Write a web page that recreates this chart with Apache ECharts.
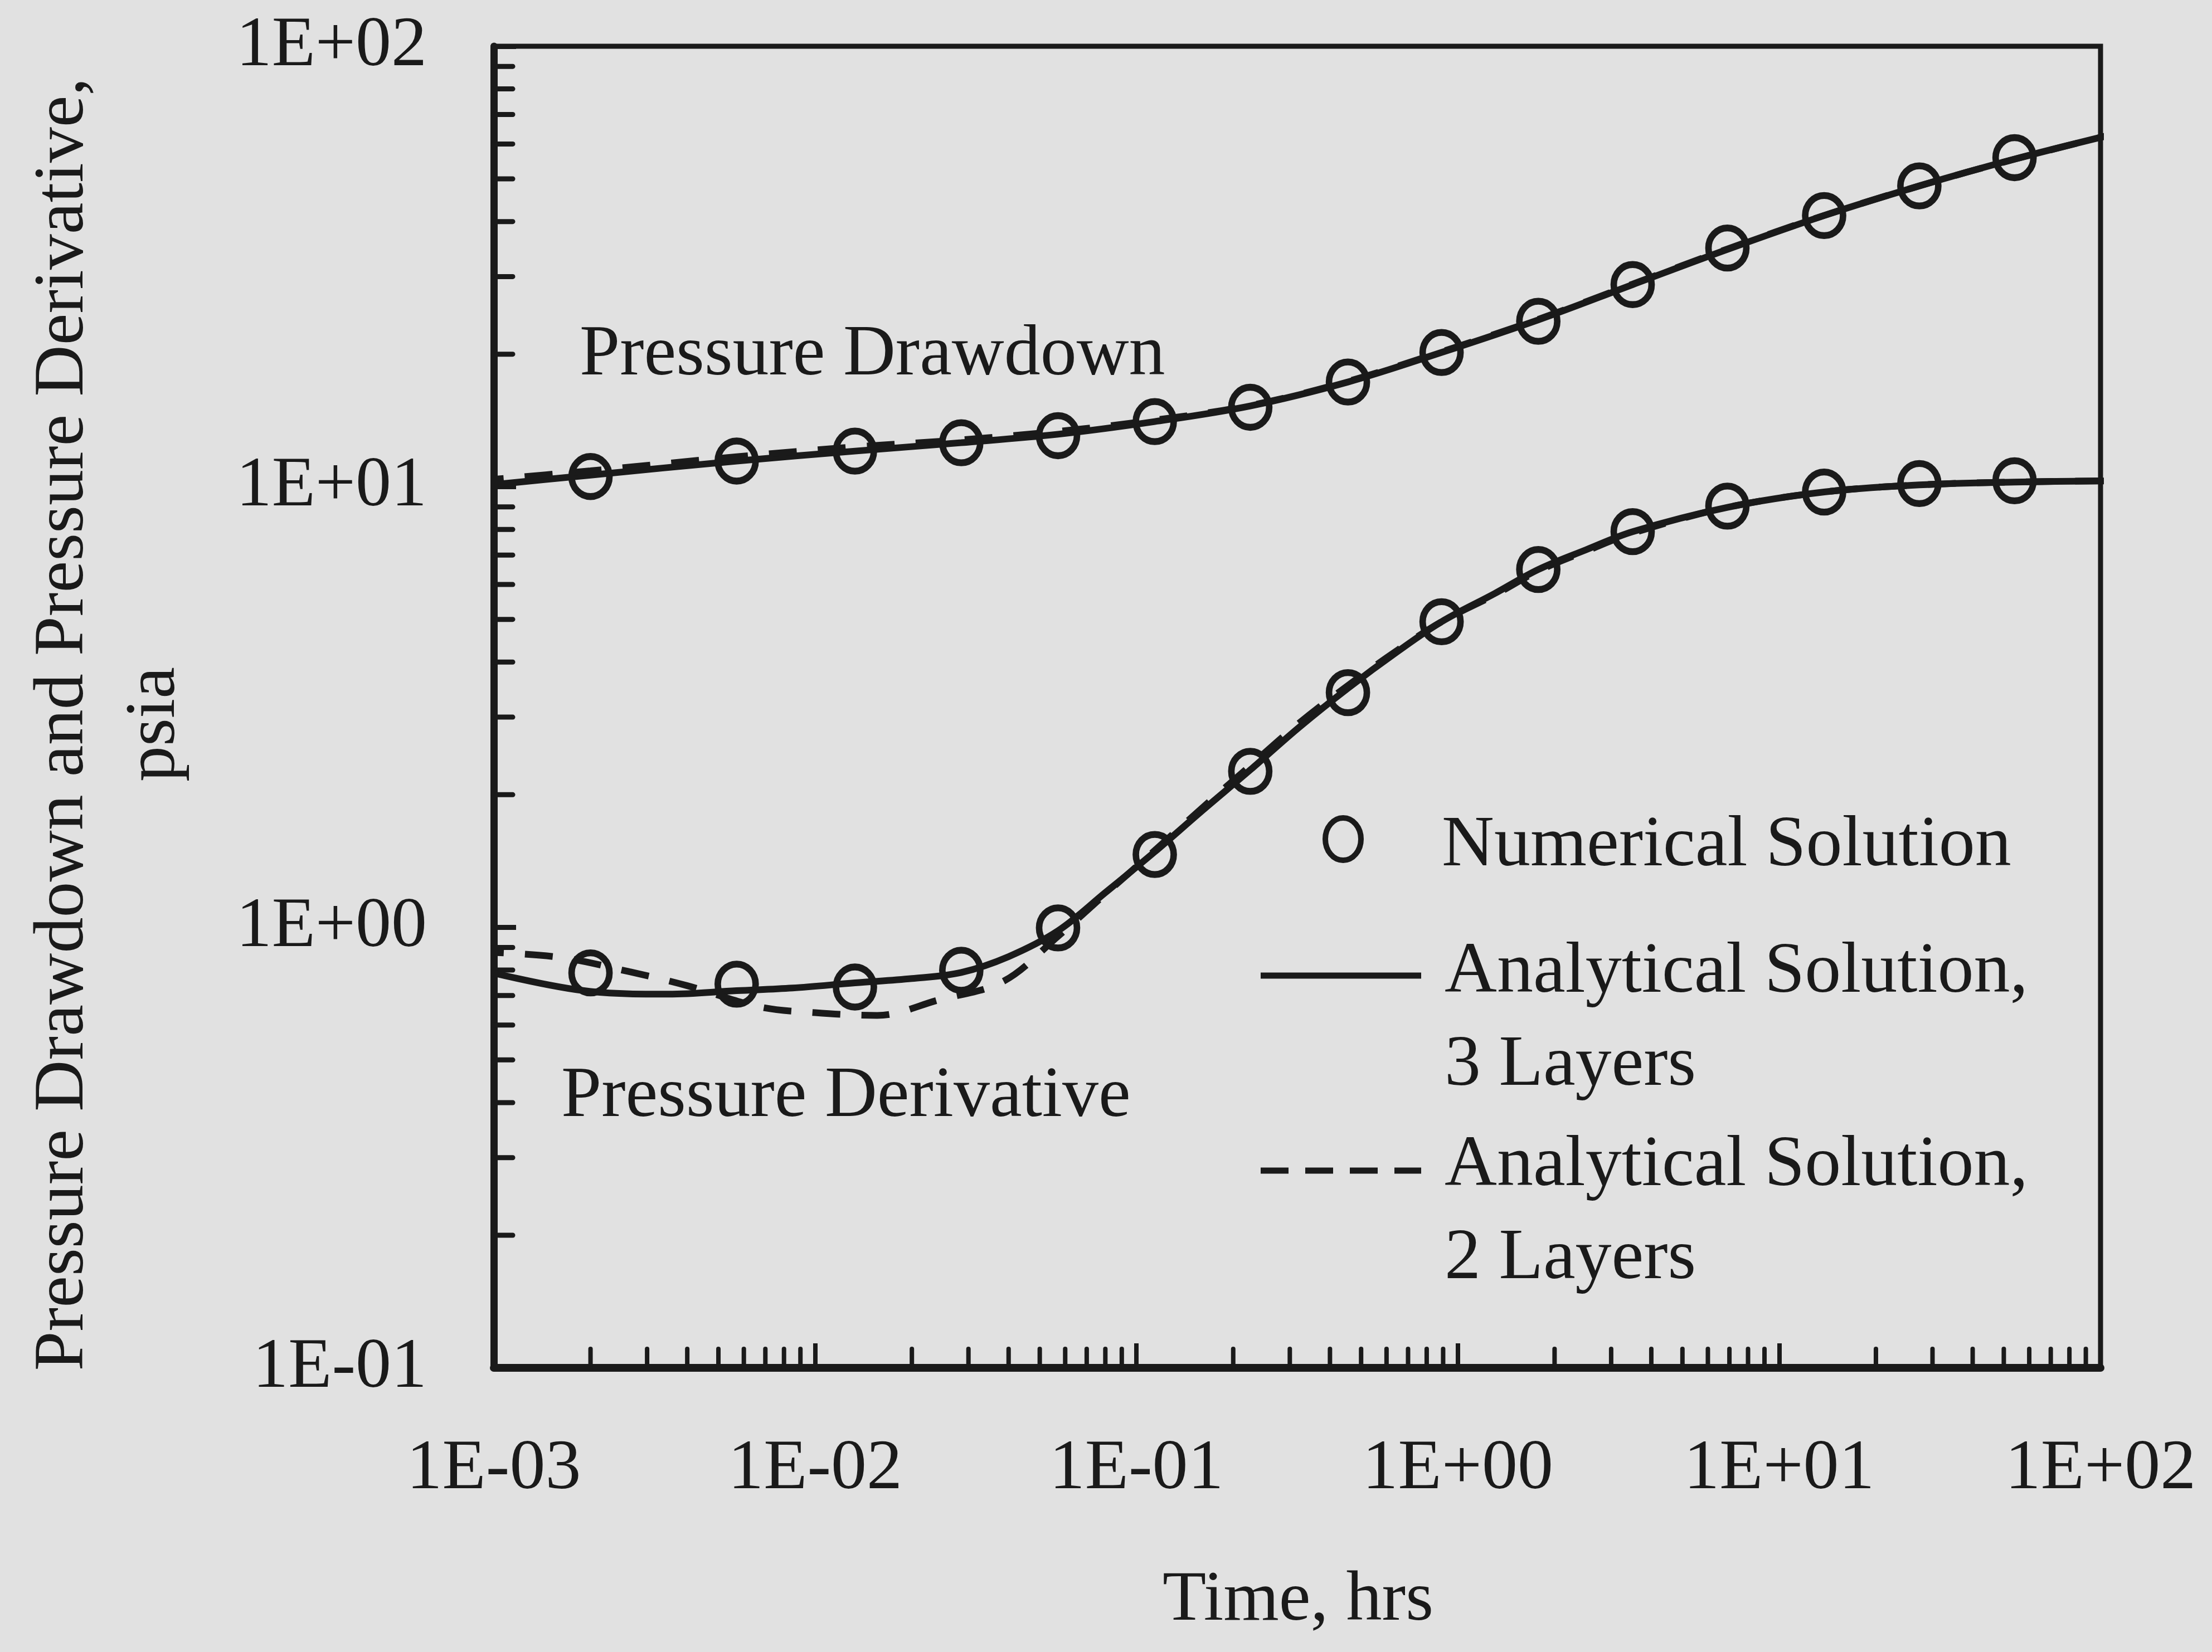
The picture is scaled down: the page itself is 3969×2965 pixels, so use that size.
<!DOCTYPE html>
<html>
<head>
<meta charset="utf-8">
<script src="https://cdn.jsdelivr.net/npm/echarts@6/dist/echarts.min.js"></script>
<style>
html,body{margin:0;padding:0;background:#e1e1e1;}
#chart{width:3969px;height:2965px;}
</style>
</head>
<body>
<div id="chart"></div>
<script>
// ---- tick labels ----
const xTickLabels = ['1E-03', '1E-02', '1E-01', '1E+00', '1E+01', '1E+02'];
const yTickLabels = ['1E-01', '1E+00', '1E+01', '1E+02'];
const minorMultipliers = [2, 3, 4, 5, 6, 7, 8, 9];
const xDecades = [0.001, 0.01, 0.1, 1, 10];
const yDecades = [0.1, 1, 10];

// ---- numerical solution (circles) ----
const numTime = [0.002, 0.0057, 0.0133, 0.0285, 0.057, 0.114, 0.226, 0.455, 0.89, 1.78, 3.5, 6.9, 13.8, 27.3, 54];
const numDrawdown = [10.55, 11.44, 12.05, 12.59, 13.06, 14.06, 15.15, 17.29, 20.18, 23.75, 28.77, 34.83, 41.28, 48.19, 55.85];
const numDerivative = [0.788, 0.743, 0.732, 0.799, 0.997, 1.463, 2.26, 3.41, 4.94, 6.49, 7.91, 9.04, 9.73, 10.17, 10.32];

// ---- analytical drawdown curves ----
const ddTime = [0.00088, 0.002, 0.0057, 0.0133, 0.0285, 0.057, 0.114, 0.226, 0.455, 0.89, 1.78, 3.5, 6.9, 13.8, 27.3, 54, 114];
const drawdown3L = [10.02, 10.63, 11.44, 12.05, 12.59, 13.16, 14.06, 15.26, 17.29, 20.18, 23.93, 28.77, 34.58, 41.28, 48.19, 55.44, 63.6];
const drawdown2L = [10.32, 10.87, 11.70, 12.32, 12.78, 13.36, 14.17, 15.30, 17.35, 20.25, 24.0, 28.85, 34.65, 41.3, 48.2, 55.4, 63.6];

// ---- analytical derivative curves ----
const dvTime3L = [0.00088, 0.002, 0.0035, 0.0057, 0.0085, 0.0133, 0.02, 0.0285, 0.04, 0.057, 0.08, 0.114, 0.16, 0.226, 0.32, 0.455, 0.65, 0.89, 1.3, 1.78, 2.5, 3.5, 6.9, 13.8, 27.3, 54, 114];
const derivative3L = [0.805, 0.715, 0.705, 0.718, 0.728, 0.748, 0.765, 0.79, 0.858, 0.982, 1.199, 1.484, 1.839, 2.277, 2.841, 3.49, 4.23, 4.94, 5.72, 6.49, 7.19, 7.91, 8.98, 9.73, 10.10, 10.25, 10.32];
const dvTime2L = [0.00088, 0.0016, 0.00264, 0.004, 0.0067, 0.01, 0.0156, 0.0242, 0.0384, 0.057, 0.08, 0.114, 0.16, 0.226, 0.32, 0.455, 0.65, 0.89, 1.3, 1.78, 2.5, 3.5, 6.9, 13.8, 27.3, 54, 114];
const derivative2L = [0.88, 0.855, 0.793, 0.737, 0.660, 0.640, 0.631, 0.684, 0.753, 0.954, 1.19, 1.495, 1.866, 2.328, 2.904, 3.54, 4.26, 4.94, 5.68, 6.44, 7.14, 7.85, 8.98, 9.73, 10.10, 10.25, 10.32];

// ---- text ----
const xTitle = 'Time, hrs';
const yTitle = 'Pressure Drawdown and Pressure Derivative,\npsia';
const annotDrawdown = 'Pressure Drawdown';
const annotDerivative = 'Pressure Derivative';
const legendNumerical = 'Numerical Solution';
const legend3L = ['Analytical Solution,', '3 Layers'];
const legend2L = ['Analytical Solution,', '2 Layers'];

const INK = '#1a1a1a';
const FONT = "'Liberation Serif', 'Times New Roman', serif";

function zip(a, b) { return a.map((v, i) => [v, b[i]]); }
function expLabel(labels, minExp) {
  return function (v) {
    const e = Math.round(Math.log10(v));
    return labels[e - minExp] || '';
  };
}

const xMinor = [];
xDecades.forEach(d => minorMultipliers.forEach(m => xMinor.push([d * m, 0.1])));
const yMinor = [];
yDecades.forEach(d => minorMultipliers.forEach(m => yMinor.push([0.001, d * m])));

const chart = echarts.init(document.getElementById('chart'), null, {renderer: 'canvas'});

const lineBase = {
  type: 'line', showSymbol: false, symbol: 'none', smooth: 0.35, clip: false,
  z: 3, silent: true
};
const circleStyle = {color: 'rgba(0,0,0,0)', borderColor: INK, borderWidth: 12, opacity: 1};

chart.setOption({
  backgroundColor: '#e1e1e1',
  animation: false,
  grid: {
    left: 886, top: 83, width: 2883, height: 2372,
    show: true, borderColor: INK, borderWidth: 9, backgroundColor: 'transparent'
  },
  xAxis: {
    type: 'log', logBase: 10, min: 0.001, max: 100,
    axisLine: {show: true, onZero: false, lineStyle: {color: INK, width: 14}},
    axisTick: {show: true, inside: true, length: 44, lineStyle: {color: INK, width: 8}},
    splitLine: {show: false},
    axisLabel: {
      show: true, margin: 118, color: INK, fontFamily: FONT, fontSize: 128,
      formatter: expLabel(xTickLabels, -3), showMinLabel: true, showMaxLabel: true, hideOverlap: false
    }
  },
  yAxis: {
    type: 'log', logBase: 10, min: 0.1, max: 100,
    axisLine: {show: true, onZero: false, lineStyle: {color: INK, width: 13}},
    axisTick: {show: true, inside: true, length: 40, lineStyle: {color: INK, width: 9}},
    splitLine: {show: false},
    axisLabel: {
      show: true, margin: 120, color: INK, fontFamily: FONT, fontSize: 128,
      formatter: expLabel(yTickLabels, -1), showMinLabel: true, showMaxLabel: true
    }
  },
  series: [
    {
      type: 'custom', name: 'xMinorTicks', silent: true, z: 2, clip: false,
      data: xMinor, encode: {x: 0, y: 1},
      renderItem: function (params, api) {
        const p = api.coord([api.value(0), api.value(1)]);
        return {type: 'line', shape: {x1: p[0], y1: p[1], x2: p[0], y2: p[1] - 34},
          style: {stroke: INK, lineWidth: 8, lineCap: 'round'}};
      }
    },
    {
      type: 'custom', name: 'yMinorTicks', silent: true, z: 2, clip: false,
      data: yMinor, encode: {x: 0, y: 1},
      renderItem: function (params, api) {
        const p = api.coord([api.value(0), api.value(1)]);
        return {type: 'line', shape: {x1: p[0], y1: p[1], x2: p[0] + 34, y2: p[1]},
          style: {stroke: INK, lineWidth: 9, lineCap: 'round'}};
      }
    },
    Object.assign({}, lineBase, {name: 'Analytical Solution, 3 Layers (drawdown)', data: zip(ddTime, drawdown3L),
      lineStyle: {color: INK, width: 12, type: 'solid', opacity: 1}}),
    Object.assign({}, lineBase, {name: 'Analytical Solution, 3 Layers (derivative)', data: zip(dvTime3L, derivative3L),
      lineStyle: {color: INK, width: 12, type: 'solid', opacity: 1}}),
    Object.assign({}, lineBase, {name: 'Analytical Solution, 2 Layers (drawdown)', data: zip(ddTime, drawdown2L),
      lineStyle: {color: INK, width: 12, type: [50, 38], opacity: 1}}),
    Object.assign({}, lineBase, {name: 'Analytical Solution, 2 Layers (derivative)', data: zip(dvTime2L, derivative2L),
      lineStyle: {color: INK, width: 12, type: [50, 38], opacity: 1}}),
    {
      type: 'scatter', name: 'Numerical Solution (drawdown)', data: zip(numTime, numDrawdown),
      symbol: 'circle', symbolSize: [68, 72], clip: false, z: 4, silent: true,
      itemStyle: circleStyle
    },
    {
      type: 'scatter', name: 'Numerical Solution (derivative)', data: zip(numTime, numDerivative),
      symbol: 'circle', symbolSize: [68, 72], clip: false, z: 4, silent: true,
      itemStyle: circleStyle
    }
  ],
  graphic: [
    {type: 'text', x: 196, y: 1300, rotation: Math.PI / 2,
      style: {text: yTitle, font: '128px ' + FONT, fill: INK, textAlign: 'center', textVerticalAlign: 'middle', lineHeight: 164}},
    {type: 'text', x: 2329, y: 2873,
      style: {text: xTitle, font: '128px ' + FONT, fill: INK, textAlign: 'center', textVerticalAlign: 'middle'}},
    {type: 'text', x: 1040, y: 638,
      style: {text: annotDrawdown, font: '130px ' + FONT, fill: INK, textAlign: 'left', textVerticalAlign: 'middle'}},
    {type: 'text', x: 1007, y: 1969,
      style: {text: annotDerivative, font: '130px ' + FONT, fill: INK, textAlign: 'left', textVerticalAlign: 'middle'}},
    // legend
    {type: 'ellipse', shape: {cx: 2410, cy: 1506, rx: 32, ry: 38},
      style: {fill: 'none', stroke: INK, lineWidth: 10}},
    {type: 'text', x: 2587, y: 1519,
      style: {text: legendNumerical, font: '130px ' + FONT, fill: INK, textAlign: 'left', textVerticalAlign: 'middle'}},
    {type: 'line', shape: {x1: 2262, y1: 1751, x2: 2550, y2: 1751},
      style: {stroke: INK, lineWidth: 11}},
    {type: 'text', x: 2592, y: 1746,
      style: {text: legend3L[0], font: '130px ' + FONT, fill: INK, textAlign: 'left', textVerticalAlign: 'middle'}},
    {type: 'text', x: 2592, y: 1913,
      style: {text: legend3L[1], font: '130px ' + FONT, fill: INK, textAlign: 'left', textVerticalAlign: 'middle'}},
    {type: 'line', shape: {x1: 2262, y1: 2101, x2: 2550, y2: 2101},
      style: {stroke: INK, lineWidth: 11, lineDash: [50, 30]}},
    {type: 'text', x: 2592, y: 2093,
      style: {text: legend2L[0], font: '130px ' + FONT, fill: INK, textAlign: 'left', textVerticalAlign: 'middle'}},
    {type: 'text', x: 2592, y: 2260,
      style: {text: legend2L[1], font: '130px ' + FONT, fill: INK, textAlign: 'left', textVerticalAlign: 'middle'}}
  ]
});
</script>
</body>
</html>
